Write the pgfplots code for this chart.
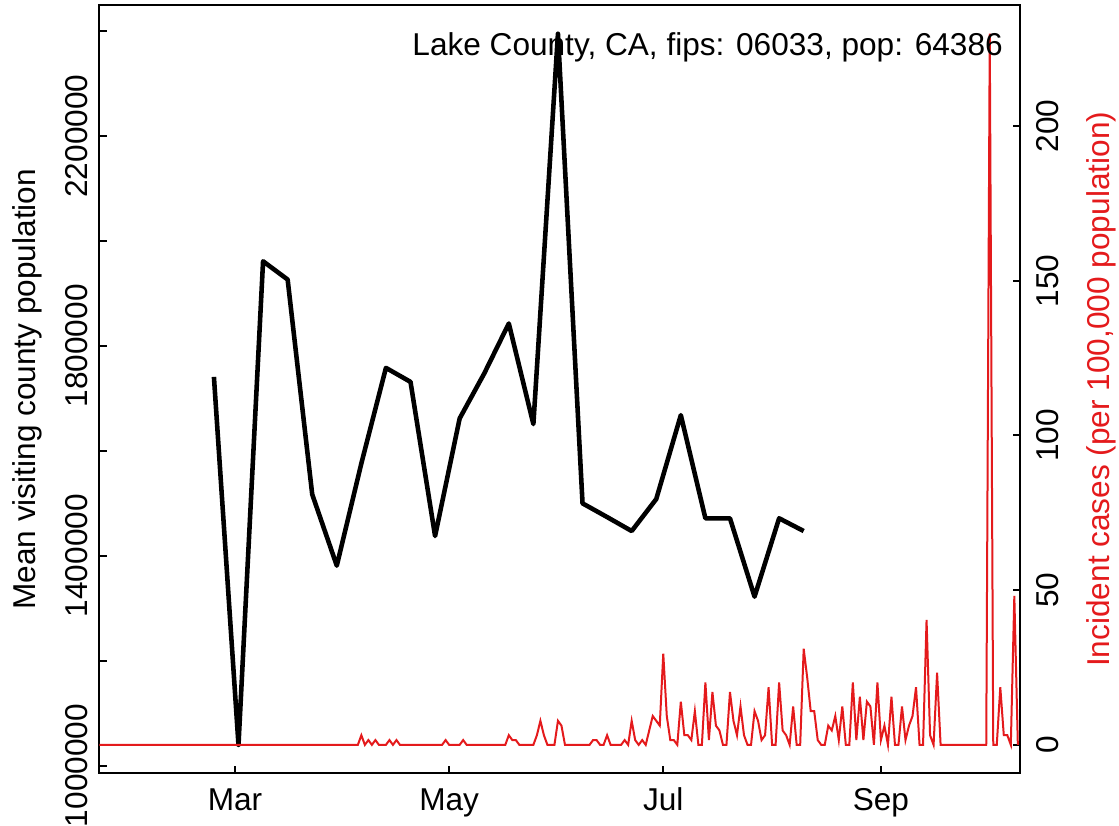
\documentclass[border=0pt]{standalone}
\usepackage{fontspec}
\setmainfont{Liberation Sans}
\usepackage{pgfplots}
\pgfplotsset{compat=1.18}
\definecolor{casered}{HTML}{E41A1C}

% x = days since 1 Jan 2020 (Mar 1 = 60)
\pgfplotstableread{
day visitors
54  1740900
61  1039400
68  1961300
75  1926500
82  1517000
89  1381000
96  1576000
103 1758100
110 1731400
117 1437500
124 1661700
131 1747400
138 1842700
145 1650900
152 2395100
159 1499800
166 1473700
173 1447000
180 1508000
187 1668000
194 1471300
201 1471300
208 1321900
215 1471300
222 1447000
}\visitors

\begin{document}
\fontsize{11.06}{13.3}\selectfont
\begin{tikzpicture}[x=1pt,y=1pt]
\useasboundingbox (-34.755,-18.445) rectangle (356.895,270.655);
\pgfplotsset{every axis/.append style={
  width=322.35pt, height=268.8pt, scale only axis,
  at={(0,0)}, anchor=south west,
  xmin=21.35, xmax=283.7,
  axis line style={line width=0.7pt},
  every tick/.style={black, line width=0.7pt},
  major tick length=2.6pt, tick align=inside,
  tick label style={font=\fontsize{11.06}{13.3}\selectfont},
}}
\begin{axis}[
  ymin=985172, ymax=2449328,
  xtick={60,121,182,244}, xticklabels={Mar,May,Jul,Sep},
  xtick pos=bottom, ytick pos=left,
  xticklabel style={anchor=base}, xticklabel shift=12.85pt,
  ytick={1000000,1200000,1400000,1600000,1800000,2000000,2200000,2400000},
  yticklabels={1000000,,1400000,,1800000,,2200000,},
  scaled y ticks=false,
  yticklabel style={rotate=90, anchor=base}, yticklabel shift=3.96pt,
]
\addplot[black, line width=1.6pt, line join=round] table[x=day, y=visitors] {\visitors};
\end{axis}
\begin{axis}[
  ymin=-9.19, ymax=239.05,
  xtick=\empty, ytick pos=right,
  ytick={0,50,100,150,200}, yticklabels={0,50,100,150,200},
  yticklabel style={rotate=90, anchor=base}, yticklabel shift=13.44pt,
]
\addplot[casered, line width=0.7pt] coordinates {
(21,0) (95,0) (96,3.11) (97,0) (98,1.55) (99,0) (100,1.55) (101,0) (103,0)
(104,1.55) (105,0) (106,1.55) (107,0) (119,0) (120,1.55) (121,0) (124,0)
(125,1.55) (126,0) (137,0) (138,3.11) (139,1.55) (140,1.55) (141,0) (145,0)
(146,3.11) (147,7.77) (148,3.11) (149,0) (151,0) (152,7.77) (153,6.21) (154,0)
(161,0) (162,1.55) (163,1.55) (164,0) (165,0) (166,3.11) (167,0) (170,0)
(171,1.55) (172,0) (173,7.77) (174,1.55) (175,0) (176,1.55) (177,0) (178,4.66)
(179,9.32) (180,7.77) (181,6.21) (182,29.51) (183,9.32) (184,1.55) (185,1.55)
(186,0) (187,13.98) (188,3.11) (189,3.11) (190,1.55) (191,10.87) (192,0) (193,0)
(194,20.19) (195,1.55) (196,17.08) (197,6.21) (198,4.66) (199,0) (200,0)
(201,17.08) (202,7.77) (203,3.11) (204,12.43) (205,3.11) (206,0) (207,0)
(208,10.87) (209,7.77) (210,1.55) (211,3.11) (212,18.64) (213,0) (214,0)
(215,20.19) (216,4.66) (217,3.11) (218,0) (219,12.43) (220,0) (221,0)
(222,31.06) (223,21.74) (224,10.87) (225,10.87) (226,1.55) (227,0) (228,0)
(229,6.21) (230,4.66) (231,9.32) (232,1.55) (233,12.43) (234,0) (235,0)
(236,20.19) (237,1.55) (238,15.53) (239,1.55) (240,13.98) (241,12.43) (242,0)
(243,20.19) (244,1.55) (245,6.21) (246,0) (247,15.53) (248,0) (249,0)
(250,12.43) (251,1.55) (252,6.21) (253,9.32) (254,18.64) (255,0) (256,0)
(257,40.38) (258,3.11) (259,0) (260,23.30) (261,0) (274,0) (275,229.86)
(276,0) (277,0) (278,18.64) (279,3.11) (280,3.11) (281,0) (282,48.15) (283,0)
};
\end{axis}
\node[anchor=base east, inner sep=0pt] at (316.4,251.06) {Lake County, CA, fips: 06033, pop: 64386};
\node[rotate=90, anchor=base] at (-22.16,134.4) {Mean visiting county population};
\node[rotate=90, anchor=base, text=casered] at (353.7,134.4) {Incident cases (per 100,000 population)};
\end{tikzpicture}
\end{document}
